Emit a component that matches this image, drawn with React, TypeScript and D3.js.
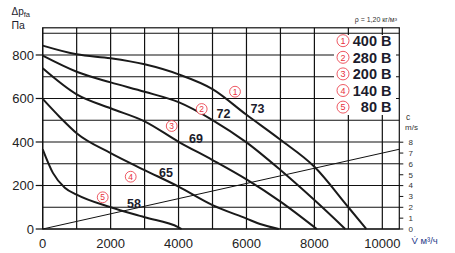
import React from "react";
import * as d3 from "d3";

const flow1 = [0, 1000, 2000, 3000, 4000, 5000, 6000, 7000, 8000, 9000, 9530];
const pres1 = [843, 803, 785, 757, 711, 643, 525, 410, 286, 100, 0];
const flow2 = [0, 1000, 2000, 3000, 4000, 5000, 6000, 7000, 8000, 8910];
const pres2 = [797, 723, 674, 631, 583, 501, 398, 271, 133, 0];
const flow3 = [0, 1000, 2000, 3000, 4000, 5000, 6000, 7000, 8070];
const pres3 = [739, 619, 555, 495, 401, 317, 228, 126, 0];
const flow4 = [0, 500, 1000, 2000, 3000, 4000, 5000, 6000, 6400, 6950];
const pres4 = [598, 515, 440, 349, 271, 195, 110, 48, 23, 0];
const flow5 = [0, 300, 650, 1000, 2000, 3000, 4000, 4090];
const pres5 = [366, 258, 190, 158, 100, 54, 8, 0];

const velFlow = [0, 10500];
const velValues = [0, 7.35];

const legendNums = ["1", "2", "3", "4", "5"];
const legendLabels = ["400 B", "280 B", "200 B", "140 B", "80 B"];
const noiseLabels = ["73", "72", "69", "65", "58"];

const xTicks = [0, 2000, 4000, 6000, 8000, 10000];
const yTicks = [0, 200, 400, 600, 800];
const vTicks = [0, 1, 2, 3, 4, 5, 6, 7, 8];

const W = 455;
const H = 253;
const X0 = 42.7;
const X1 = 399.3;
const Y0 = 229;
const Y1 = 27.8;

const font = "'Liberation Sans', Arial, sans-serif";
const red = "#e8303c";

export default function App() {
  const x = d3.scaleLinear().domain([0, 10500]).range([X0, X1]);
  const y = d3.scaleLinear().domain([0, 925]).range([Y0, Y1]);
  const yv = d3.scaleLinear().domain([0, 8]).range([Y0, Y0 - 8 * 10.85]);

  const line = d3
    .line<[number, number]>()
    .x((d) => x(d[0]))
    .y((d) => y(d[1]))
    .curve(d3.curveMonotoneX);

  const series = [
    [flow1, pres1],
    [flow2, pres2],
    [flow3, pres3],
    [flow4, pres4],
    [flow5, pres5],
  ];

  const velLine = d3
    .line<[number, number]>()
    .x((d) => x(d[0]))
    .y((d) => yv(d[1]));

  const hGrid = d3.range(0, 901, 100);
  const vGrid = d3.range(0, 10001, 1000);

  const circlePos: [number, number][] = [
    [x.invert(235), y.invert(91.7)],
    [x.invert(201.7), y.invert(109)],
    [x.invert(171.7), y.invert(126)],
    [x.invert(130.7), y.invert(176.7)],
    [x.invert(102.7), y.invert(197.3)],
  ];
  const numPos: [number, number][] = [
    [x.invert(257.5), y.invert(108)],
    [x.invert(223.5), y.invert(113.5)],
    [x.invert(196), y.invert(138)],
    [x.invert(166), y.invert(172)],
    [x.invert(134), y.invert(203)],
  ];

  return (
    <div style={{ position: "fixed", left: 0, top: 0 }}>
      <svg width={W} height={H} style={{ display: "block", background: "#fff" }}>
        {hGrid.map((v) => (
          <line key={"h" + v} x1={X0} x2={X1} y1={y(v)} y2={y(v)} stroke="#111" strokeWidth={1.2} />
        ))}
        {vGrid.map((v) => (
          <line key={"v" + v} x1={x(v)} x2={x(v)} y1={Y0} y2={Y1} stroke="#111" strokeWidth={1.2} />
        ))}
        <rect x={X0} y={Y1} width={X1 - X0} height={Y0 - Y1} fill="none" stroke="#111" strokeWidth={1.2} />
        {yTicks.map((v) => (
          <g key={"yt" + v}>
            <line x1={X0 - 7} x2={X0} y1={y(v)} y2={y(v)} stroke="#111" strokeWidth={1.2} />
            <text x={34} y={y(v)} dy="0.36em" textAnchor="end" fontSize={13} fontFamily={font} fill="#222">
              {v}
            </text>
          </g>
        ))}
        {xTicks.map((v) => (
          <text key={"xt" + v} x={x(v)} y={247.5} textAnchor="middle" fontSize={13} fontFamily={font} fill="#222">
            {v}
          </text>
        ))}
        {vTicks.map((v) => (
          <g key={"vt" + v}>
            <line x1={X1} x2={X1 + 4} y1={yv(v)} y2={yv(v)} stroke="#111" strokeWidth={1} />
            <text x={408.5} y={yv(v)} dy="0.36em" fontSize={8} fontFamily={font} fill="#333">
              {v}
            </text>
          </g>
        ))}
        <path
          d={velLine(velFlow.map((f, i) => [f, velValues[i]] as [number, number])) || ""}
          fill="none"
          stroke="#111"
          strokeWidth={1}
        />
        {series.map(([fl, pr], i) => (
          <path
            key={"s" + i}
            d={line(fl.map((f, j) => [f, pr[j]] as [number, number])) || ""}
            fill="none"
            stroke="#1a1a1a"
            strokeWidth={2}
          />
        ))}
        <rect x={334} y={35} width={62} height={80} fill="#fff" />
        {legendLabels.map((lab, i) => {
          const cy = 40.7 + i * 16.6;
          return (
            <g key={"lg" + i}>
              <circle cx={343} cy={cy} r={6} fill="none" stroke={red} strokeWidth={0.8} />
              <text x={343} y={cy} dy="0.36em" textAnchor="middle" fontSize={9} fontFamily={font} fill={red}>
                {legendNums[i]}
              </text>
              <text x={391.5} y={cy} dy="0.36em" textAnchor="end" fontSize={14.5} fontWeight="bold" fontFamily={font} fill="#1c1c2c">
                {lab}
              </text>
            </g>
          );
        })}
        {circlePos.map(([cx, cy], i) => (
          <g key={"cp" + i}>
            <circle cx={x(cx)} cy={y(cy)} r={5.4} fill="#fff" stroke={red} strokeWidth={0.8} />
            <text x={x(cx)} y={y(cy)} dy="0.36em" textAnchor="middle" fontSize={8.5} fontFamily={font} fill={red}>
              {legendNums[i]}
            </text>
          </g>
        ))}
        {numPos.map(([nx, ny], i) => (
          <text key={"np" + i} x={x(nx)} y={y(ny)} dy="0.36em" textAnchor="middle" fontSize={12.5} fontWeight="bold" fontFamily={font} fill="#1c1c2c">
            {noiseLabels[i]}
          </text>
        ))}
        <text x={397} y={22} textAnchor="end" fontSize={7} fontFamily={font} fill="#333">
          ρ = 1,20 кг/м³
        </text>
        <text x={406} y={119.5} fontSize={8.5} fontFamily={font} fill="#333">c</text>
        <text x={405} y={129.5} fontSize={8} fontFamily={font} fill="#333">m/s</text>
        <text x={411.5} y={244} fontSize={9.5} fontFamily={font} fill="#1f3a8a">
          V̇ м³/ч
        </text>
        <text x={11.5} y={15} fontSize={10} fontFamily={font} fill="#1c1c2c">
          Δp<tspan fontSize={7.5} dy={1.8}>fa</tspan>
        </text>
        <text x={11.5} y={28.5} fontSize={10.5} fontFamily={font} fill="#1c1c2c">
          Па
        </text>
      </svg>
    </div>
  );
}
